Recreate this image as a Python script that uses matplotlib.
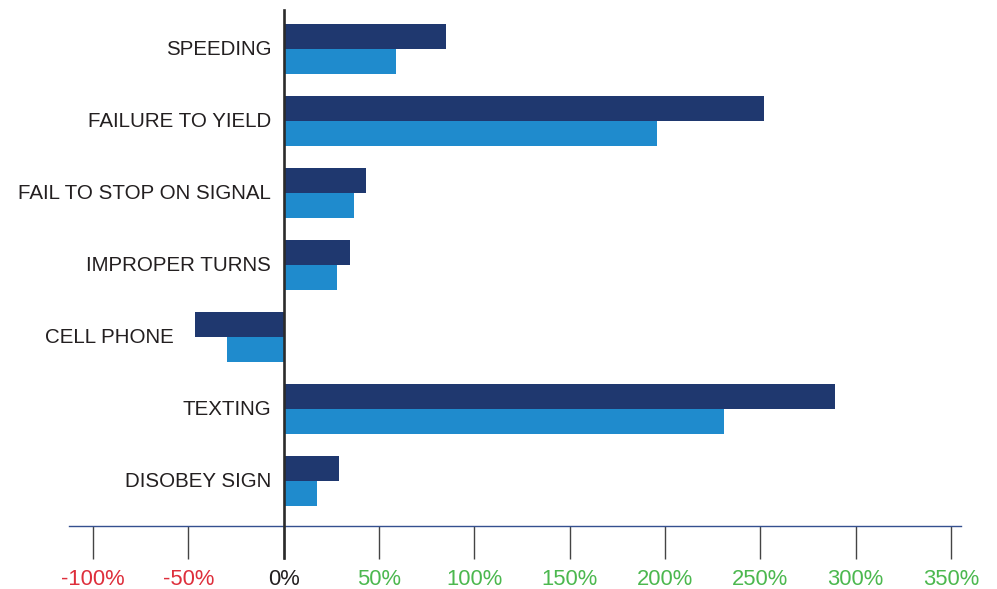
import matplotlib.pyplot as plt
import numpy as np

plt.rcParams['font.family'] = ['Liberation Sans', 'DejaVu Sans']

# data
categories = ['SPEEDING', 'FAILURE TO YIELD', 'FAIL TO STOP ON SIGNAL',
              'IMPROPER TURNS', 'CELL PHONE', 'TEXTING', 'DISOBEY SIGN']
series_dark = [85, 252, 43, 35, -46.5, 289, 29]
series_light = [59, 196, 37, 28, -29.5, 231, 17.5]
tick_values = [-100, -50, 0, 50, 100, 150, 200, 250, 300, 350]
tick_labels = ['-100%', '-50%', '0%', '50%', '100%', '150%', '200%',
               '250%', '300%', '350%']

dark_color = '#1f386f'
light_color = '#1f8bcd'
red = '#de2f3c'
green = '#4cb84f'
text_color = '#231f20'

fig = plt.figure(figsize=(9.97, 5.89), dpi=100)
ax = fig.add_axes([69 / 997, 63.5 / 589, 892 / 997, 515.5 / 589])

y = np.arange(len(categories))
h = 25 / 72

ax.barh(y - h / 2, series_dark, height=h, color=dark_color)
ax.barh(y + h / 2, series_light, height=h, color=light_color)

ax.set_xlim(-112.6, 355.2)
ax.set_ylim(6.618, -0.542)

# spines
for s in ['top', 'right', 'left']:
    ax.spines[s].set_visible(False)
ax.spines['bottom'].set_color('#34508f')
ax.spines['bottom'].set_linewidth(1.0)

# zero line, runs down through the tick area
ax.axvline(0, ymin=-0.064, ymax=1, color='#2b2b2b', lw=1.9,
           clip_on=False, zorder=5)

# x ticks
ax.set_xticks(tick_values)
ax.set_xticklabels(tick_labels)
ax.tick_params(axis='x', direction='out', length=23.5, width=1.0,
               color='#444444', pad=8, labelsize=15.8)
for lab, v in zip(ax.get_xticklabels(), tick_values):
    if v < 0:
        lab.set_color(red)
    elif v > 0:
        lab.set_color(green)
    else:
        lab.set_color(text_color)
ax.set_yticks([])

# category labels left of the bars
for i, name in enumerate(categories):
    low = min(0, series_dark[i], series_light[i])
    pad = 12.5 if low == 0 else 21.5
    ax.annotate(name, xy=(low, i), xytext=(-pad * 0.72, 0),
                textcoords='offset points', ha='right', va='center',
                fontsize=14.8, color=text_color)

fig.savefig('out.png', dpi=100)
